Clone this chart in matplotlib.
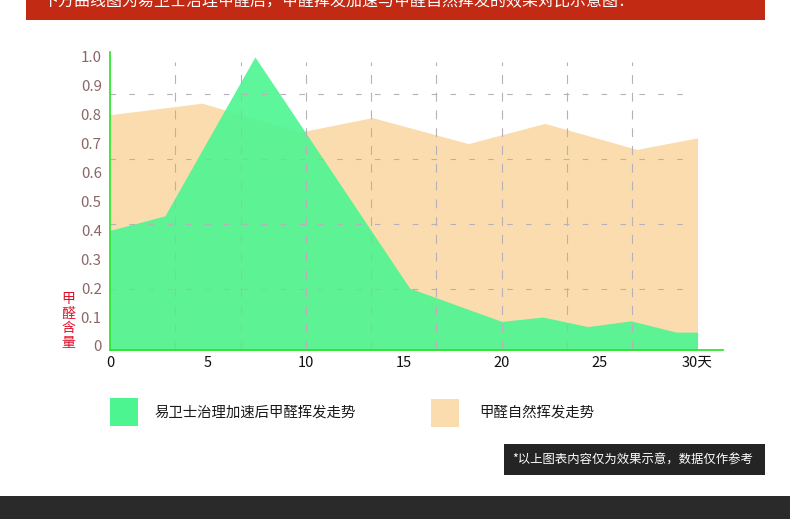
import matplotlib
matplotlib.use('Agg')
import matplotlib.pyplot as plt
from matplotlib.patches import Rectangle

plt.rcParams['font.family'] = ['Noto Sans CJK SC', 'DejaVu Sans']

# ---- data ----
green_x = [0, 2.8, 7.4, 15.3, 20.0, 22.1, 24.4, 26.6, 28.9, 30]
green_y = [0.40, 0.45, 1.0, 0.20, 0.085, 0.10, 0.067, 0.087, 0.048, 0.048]
orange_x = [0, 4.7, 9.7, 13.4, 18.3, 22.2, 26.9, 30]
orange_y = [0.80, 0.84, 0.74, 0.79, 0.70, 0.77, 0.68, 0.72]
x_ticks = [0, 5, 10, 15, 20, 25, 30]
x_labels = ['0', '5', '10', '15', '20', '25', '30天']
y_ticks = [0, 0.1, 0.2, 0.3, 0.4, 0.5, 0.6, 0.7, 0.8, 0.9, 1.0]
y_labels = ['0', '0.1', '0.2', '0.3', '0.4', '0.5', '0.6', '0.7', '0.8', '0.9', '1.0']
series_names = ['易卫士治理加速后甲醛挥发走势', '甲醛自然挥发走势']
y_title = '甲醛含量'
banner_text = '下方曲线图为易卫士治理甲醛后，甲醛挥发加速与甲醛自然挥发的效果对比示意图：'
note_text = '*以上图表内容仅为效果示意，数据仅作参考'

W, H = 790, 519
GREEN = '#4cf590'
ORANGE = '#fbdcae'

fig = plt.figure(figsize=(W / 100, H / 100), dpi=100)
fig.patch.set_facecolor('white')


def fx(x):
    return x / W


def fy(y):
    return 1 - y / H


def rect(x0, y0, x1, y1, color):
    fig.patches.append(Rectangle((fx(x0), fy(y1)), (x1 - x0) / W, (y1 - y0) / H,
                                 transform=fig.transFigure, facecolor=color,
                                 edgecolor='none', zorder=0))


# banner (text partly above the top edge, as in the source)
rect(26, 0, 765, 20, '#c32a14')
fig.text(fx(42), fy(6), banner_text, color='white', fontsize=11.5,
         ha='left', va='baseline')

# bottom band
rect(0, 496, W, H, '#2a2a2a')

# axes
ax = fig.add_axes([fx(110), fy(350), 613 / W, 298 / H])
ax.set_facecolor('none')
ymin = -0.014
ax.set_xlim(0, 31.3)
ax.set_ylim(ymin, 1.017)

ax.fill_between(orange_x, ymin, orange_y, color=ORANGE, linewidth=0, zorder=1)
ax.fill_between(green_x, ymin, green_y, color=GREEN, alpha=0.9, linewidth=0, zorder=2)

# dashed guide lines
for v in [0.872, 0.647, 0.422, 0.197]:
    ax.plot([0, 29.8], [v, v], color='#b8b0b8', lw=0.8, ls=(0, (5, 12)), zorder=3)
for k in range(1, 9):
    xv = k * 10 / 3
    ax.plot([xv, xv], [ymin, 0.983], color='#b8b0b8', lw=0.8, ls=(0, (8, 8)), zorder=3)

for s in ['top', 'right']:
    ax.spines[s].set_visible(False)
for s in ['left', 'bottom']:
    ax.spines[s].set_color('#1ee61e')
    ax.spines[s].set_linewidth(1.2)
    ax.spines[s].set_zorder(4)

ax.set_xticks(x_ticks)
ax.set_xticklabels(x_labels)
ax.set_yticks(y_ticks)
ax.set_yticklabels(y_labels)
ax.tick_params(axis='x', length=0, pad=4, labelsize=10.5, labelcolor='#111111')
ax.tick_params(axis='y', length=0, pad=6, labelsize=10.8, labelcolor='#8b6666')

# y title, stacked characters
for ch, yc in zip(y_title, [299, 314, 328, 343]):
    fig.text(fx(68), fy(yc), ch, color='#e0102a', fontsize=10,
             ha='center', va='center')

# legend
rect(110, 398, 138, 426, GREEN)
fig.text(fx(154), fy(413), series_names[0], color='#1a1a1a', fontsize=10.4,
         ha='left', va='center')
rect(431, 399, 459, 427, ORANGE)
fig.text(fx(479), fy(413), series_names[1], color='#1a1a1a', fontsize=10.4,
         ha='left', va='center')

# note box
rect(504, 444, 765, 475, '#242424')
fig.text(fx(512), fy(460), note_text, color='white', fontsize=8.9,
         ha='left', va='center')

fig.savefig('out.png', dpi=100)
